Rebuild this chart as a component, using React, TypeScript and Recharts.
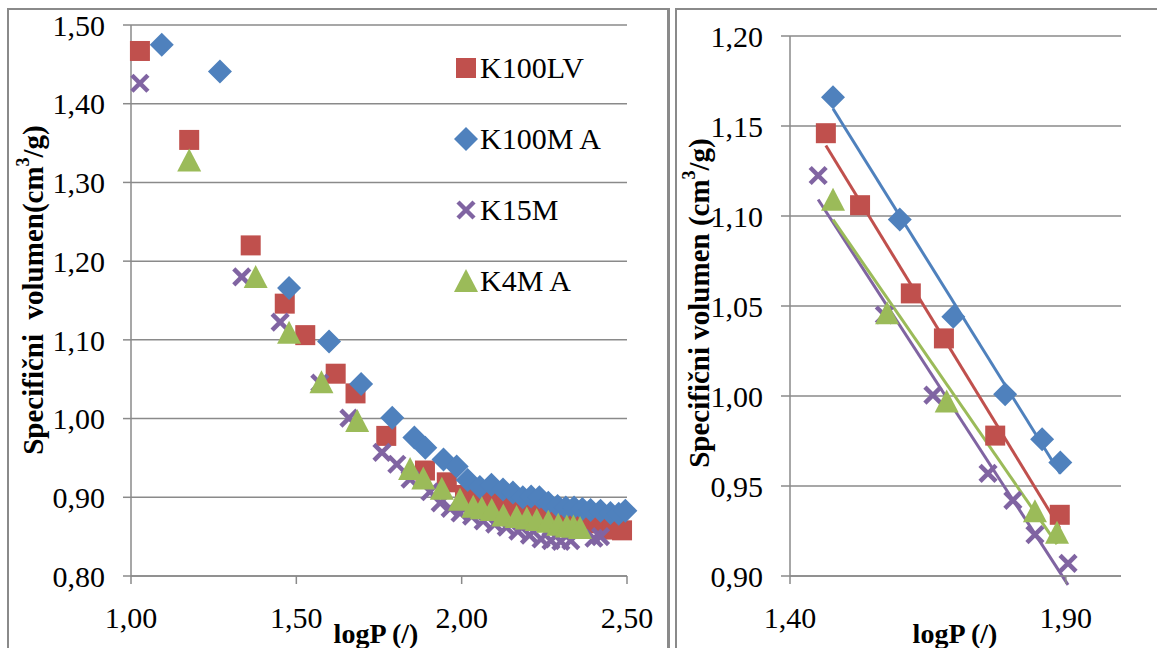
import React from 'react';
import {
  CartesianGrid,
  Label,
  Legend,
  ReferenceLine,
  Scatter,
  ScatterChart,
  XAxis,
  YAxis,
} from 'recharts';

// series (log pressure vs. specific volume)
const seriesNames = ['K100LV', 'K100M A', 'K15M', 'K4M A'];

const k100lvLogP = [1.027, 1.176, 1.362, 1.465, 1.527, 1.619, 1.679, 1.772, 1.889, 1.955, 2.01, 2.05, 2.095, 2.135, 2.17, 2.205, 2.24, 2.275, 2.31, 2.345, 2.38, 2.415, 2.455, 2.485];
const k100lvVolume = [1.467, 1.354, 1.22, 1.146, 1.106, 1.057, 1.032, 0.978, 0.934, 0.919, 0.903, 0.898, 0.896, 0.891, 0.887, 0.884, 0.88, 0.877, 0.874, 0.871, 0.869, 0.867, 0.859, 0.858];

const k100mLogP = [1.093, 1.269, 1.478, 1.599, 1.696, 1.79, 1.857, 1.89, 1.945, 1.985, 2.018, 2.055, 2.09, 2.125, 2.155, 2.185, 2.21, 2.235, 2.262, 2.29, 2.315, 2.34, 2.365, 2.39, 2.42, 2.45, 2.475, 2.495];
const k100mVolume = [1.475, 1.441, 1.166, 1.098, 1.044, 1.001, 0.976, 0.963, 0.948, 0.939, 0.922, 0.913, 0.916, 0.91, 0.906, 0.9, 0.901, 0.9, 0.893, 0.889, 0.887, 0.887, 0.885, 0.884, 0.883, 0.88, 0.879, 0.883];

const k15mLogP = [1.027, 1.335, 1.451, 1.571, 1.659, 1.759, 1.804, 1.844, 1.904, 1.935, 1.965, 1.995, 2.03, 2.065, 2.1, 2.135, 2.17, 2.205, 2.24, 2.27, 2.3, 2.33, 2.4, 2.42];
const k15mVolume = [1.426, 1.18, 1.1225, 1.045, 1.0005, 0.957, 0.942, 0.923, 0.907, 0.893, 0.886, 0.88, 0.876, 0.87, 0.866, 0.862, 0.857, 0.852, 0.847, 0.845, 0.844, 0.845, 0.848, 0.85];

const k4mLogP = [1.176, 1.377, 1.478, 1.576, 1.684, 1.844, 1.884, 1.94, 1.995, 2.035, 2.061, 2.091, 2.126, 2.166, 2.197, 2.227, 2.262, 2.292, 2.318, 2.338, 2.358];
const k4mVolume = [1.328, 1.18, 1.109, 1.046, 0.997, 0.936, 0.924, 0.911, 0.897, 0.888, 0.886, 0.884, 0.877, 0.875, 0.873, 0.871, 0.869, 0.865, 0.863, 0.863, 0.861];

// linear region shown on the right panel
const fitRange = [1.44, 1.91];

const fullXTicks = [1.0, 1.5, 2.0, 2.5];
const fullYTicks = [0.8, 0.9, 1.0, 1.1, 1.2, 1.3, 1.4, 1.5];
const fitXTicks = [1.4, 1.9];
const fitYTicks = [0.9, 0.95, 1.0, 1.05, 1.1, 1.15, 1.2];

const colors = ['#C0504D', '#4F81BD', '#8064A2', '#9BBB59'];
const gridColor = '#8a8a8a';
const font = '"Liberation Serif", "Times New Roman", serif';

type Pt = { logP: number; volume: number };

const zip = (xs: number[], ys: number[]): Pt[] => xs.map((x, i) => ({ logP: x, volume: ys[i] }));

const fullSeries = [
  zip(k100lvLogP, k100lvVolume),
  zip(k100mLogP, k100mVolume),
  zip(k15mLogP, k15mVolume),
  zip(k4mLogP, k4mVolume),
];

const fitSeries = fullSeries.map(s => s.filter(p => p.logP >= fitRange[0] && p.logP <= fitRange[1]));

// least squares trend line over the points of a series
function trendSegment(pts: Pt[]) {
  const n = pts.length;
  const mx = pts.reduce((a, p) => a + p.logP, 0) / n;
  const my = pts.reduce((a, p) => a + p.volume, 0) / n;
  let sxy = 0;
  let sxx = 0;
  pts.forEach(p => {
    sxy += (p.logP - mx) * (p.volume - my);
    sxx += (p.logP - mx) * (p.logP - mx);
  });
  const k = sxy / sxx;
  const x0 = Math.min(...pts.map(p => p.logP));
  const x1 = Math.max(...pts.map(p => p.logP));
  return [
    { x: x0, y: my + k * (x0 - mx) },
    { x: x1, y: my + k * (x1 - mx) },
  ];
}

const fmt = (v: number) => v.toFixed(2).replace('.', ',');

function marker(index: number, cx: number, cy: number) {
  const c = colors[index];
  if (index === 0) return <rect x={cx - 10} y={cy - 10} width={20} height={20} fill={c} />;
  if (index === 1)
    return <polygon points={`${cx},${cy - 12} ${cx + 12},${cy} ${cx},${cy + 12} ${cx - 12},${cy}`} fill={c} />;
  if (index === 2)
    return (
      <g stroke={c} strokeWidth={4.5}>
        <line x1={cx - 8} y1={cy - 8} x2={cx + 8} y2={cy + 8} />
        <line x1={cx - 8} y1={cy + 8} x2={cx + 8} y2={cy - 8} />
      </g>
    );
  return <polygon points={`${cx},${cy - 12} ${cx + 12},${cy + 11} ${cx - 12},${cy + 11}`} fill={c} />;
}

const shapeFor = (index: number) => (props: any) => marker(index, props.cx, props.cy);

function renderLegend(props: any) {
  const payload = props.payload || [];
  return (
    <div style={{ fontFamily: font, fontSize: 30, color: '#000' }}>
      {payload.map((entry: any) => {
        const idx = seriesNames.indexOf(entry.value);
        return (
          <div key={entry.value} style={{ display: 'flex', alignItems: 'center', height: 71 }}>
            <svg width={24} height={26}>{marker(idx, 12, 13)}</svg>
            <span style={{ marginLeft: 2 }}>{entry.value}</span>
          </div>
        );
      })}
    </div>
  );
}

function VolumeTitle(props: any) {
  const { tx, ty, text } = props;
  return (
    <text
      x={tx}
      y={ty}
      transform={`rotate(-90 ${tx} ${ty})`}
      textAnchor="middle"
      dominantBaseline="central"
      fontFamily={font}
      fontWeight="bold"
      fontSize={29}
      fill="#000"
      style={{ whiteSpace: 'pre' }}
    >
      <tspan>{text}</tspan>
      <tspan dy={-10} fontSize={18}>3</tspan>
      <tspan dy={10}>/g)</tspan>
    </text>
  );
}

function LogPTitle(props: any) {
  const { tx, ty } = props;
  return (
    <text x={tx} y={ty} textAnchor="middle" dominantBaseline="central" fontFamily={font} fontWeight="bold" fontSize={28} fill="#000">
      logP (/)
    </text>
  );
}

const tickStyle = { fill: '#000', fontSize: 30, fontFamily: font };

function FullChart() {
  return (
    <ScatterChart width={670} height={648} margin={{ top: 25, right: 43, bottom: 32, left: 0 }}>
      <CartesianGrid vertical={false} stroke={gridColor} strokeWidth={1.5} />
      <XAxis
        type="number"
        dataKey="logP"
        domain={[1, 2.5]}
        ticks={fullXTicks}
        tickFormatter={fmt}
        height={40}
        tick={tickStyle}
        tickSize={8}
        tickMargin={23}
        stroke={gridColor}
        strokeWidth={1.5}
      >
        <Label content={<LogPTitle tx={376} ty={633} />} />
      </XAxis>
      <YAxis
        type="number"
        dataKey="volume"
        domain={[0.8, 1.5]}
        ticks={fullYTicks}
        tickFormatter={fmt}
        width={131}
        tick={tickStyle}
        tickSize={8}
        tickMargin={18}
        stroke={gridColor}
        strokeWidth={1.5}
      >
        <Label content={<VolumeTitle tx={33} ty={290} text={'Specifični\u00a0 volumen(cm'} />} />
      </YAxis>
      <Legend
        layout="vertical"
        align="center"
        verticalAlign="middle"
        content={renderLegend}
        wrapperStyle={{ left: 454, top: 32, width: 200, height: 290 }}
      />
      {fullSeries.map((data, i) => (
        <Scatter key={seriesNames[i]} name={seriesNames[i]} data={data} shape={shapeFor(i)} isAnimationActive={false} />
      ))}
    </ScatterChart>
  );
}

function FitChart() {
  return (
    <ScatterChart width={482} height={648} margin={{ top: 36, right: 36, bottom: 32, left: 0 }}>
      <CartesianGrid vertical={false} stroke={gridColor} strokeWidth={1.5} />
      <XAxis
        type="number"
        dataKey="logP"
        domain={[1.4, 2.0]}
        ticks={fitXTicks}
        tickFormatter={fmt}
        height={40}
        tick={tickStyle}
        tickSize={8}
        tickMargin={23}
        stroke={gridColor}
        strokeWidth={1.5}
      >
        <Label content={<LogPTitle tx={280} ty={633} />} />
      </XAxis>
      <YAxis
        type="number"
        dataKey="volume"
        domain={[0.9, 1.2]}
        ticks={fitYTicks}
        tickFormatter={fmt}
        width={115}
        tick={tickStyle}
        tickSize={9}
        tickMargin={18}
        stroke={gridColor}
        strokeWidth={1.5}
      >
        <Label content={<VolumeTitle tx={24} ty={303} text={'Specifični volumen (cm'} />} />
      </YAxis>
      {fitSeries.map((data, i) => (
        <Scatter key={seriesNames[i]} name={seriesNames[i]} data={data} shape={shapeFor(i)} isAnimationActive={false} />
      ))}
      {fitSeries.map((data, i) => (
        <ReferenceLine
          key={'trend-' + i}
          segment={trendSegment(data)}
          stroke={colors[i]}
          strokeWidth={3}
          ifOverflow="visible"
        />
      ))}
    </ScatterChart>
  );
}

export default function App() {
  return (
    <div style={{ position: 'absolute', left: 0, top: 0, width: 1157, height: 648, overflow: 'hidden', background: '#fff' }}>
      <div style={{ position: 'absolute', left: 7, top: 8, width: 658, height: 700, border: `2px solid ${gridColor}`, borderRightWidth: 3 }} />
      <div style={{ position: 'absolute', left: 675, top: 8, width: 600, height: 700, border: `2px solid ${gridColor}` }} />
      <div style={{ position: 'absolute', left: 0, top: 0 }}>
        <FullChart />
      </div>
      <div style={{ position: 'absolute', left: 675, top: 0 }}>
        <FitChart />
      </div>
    </div>
  );
}
